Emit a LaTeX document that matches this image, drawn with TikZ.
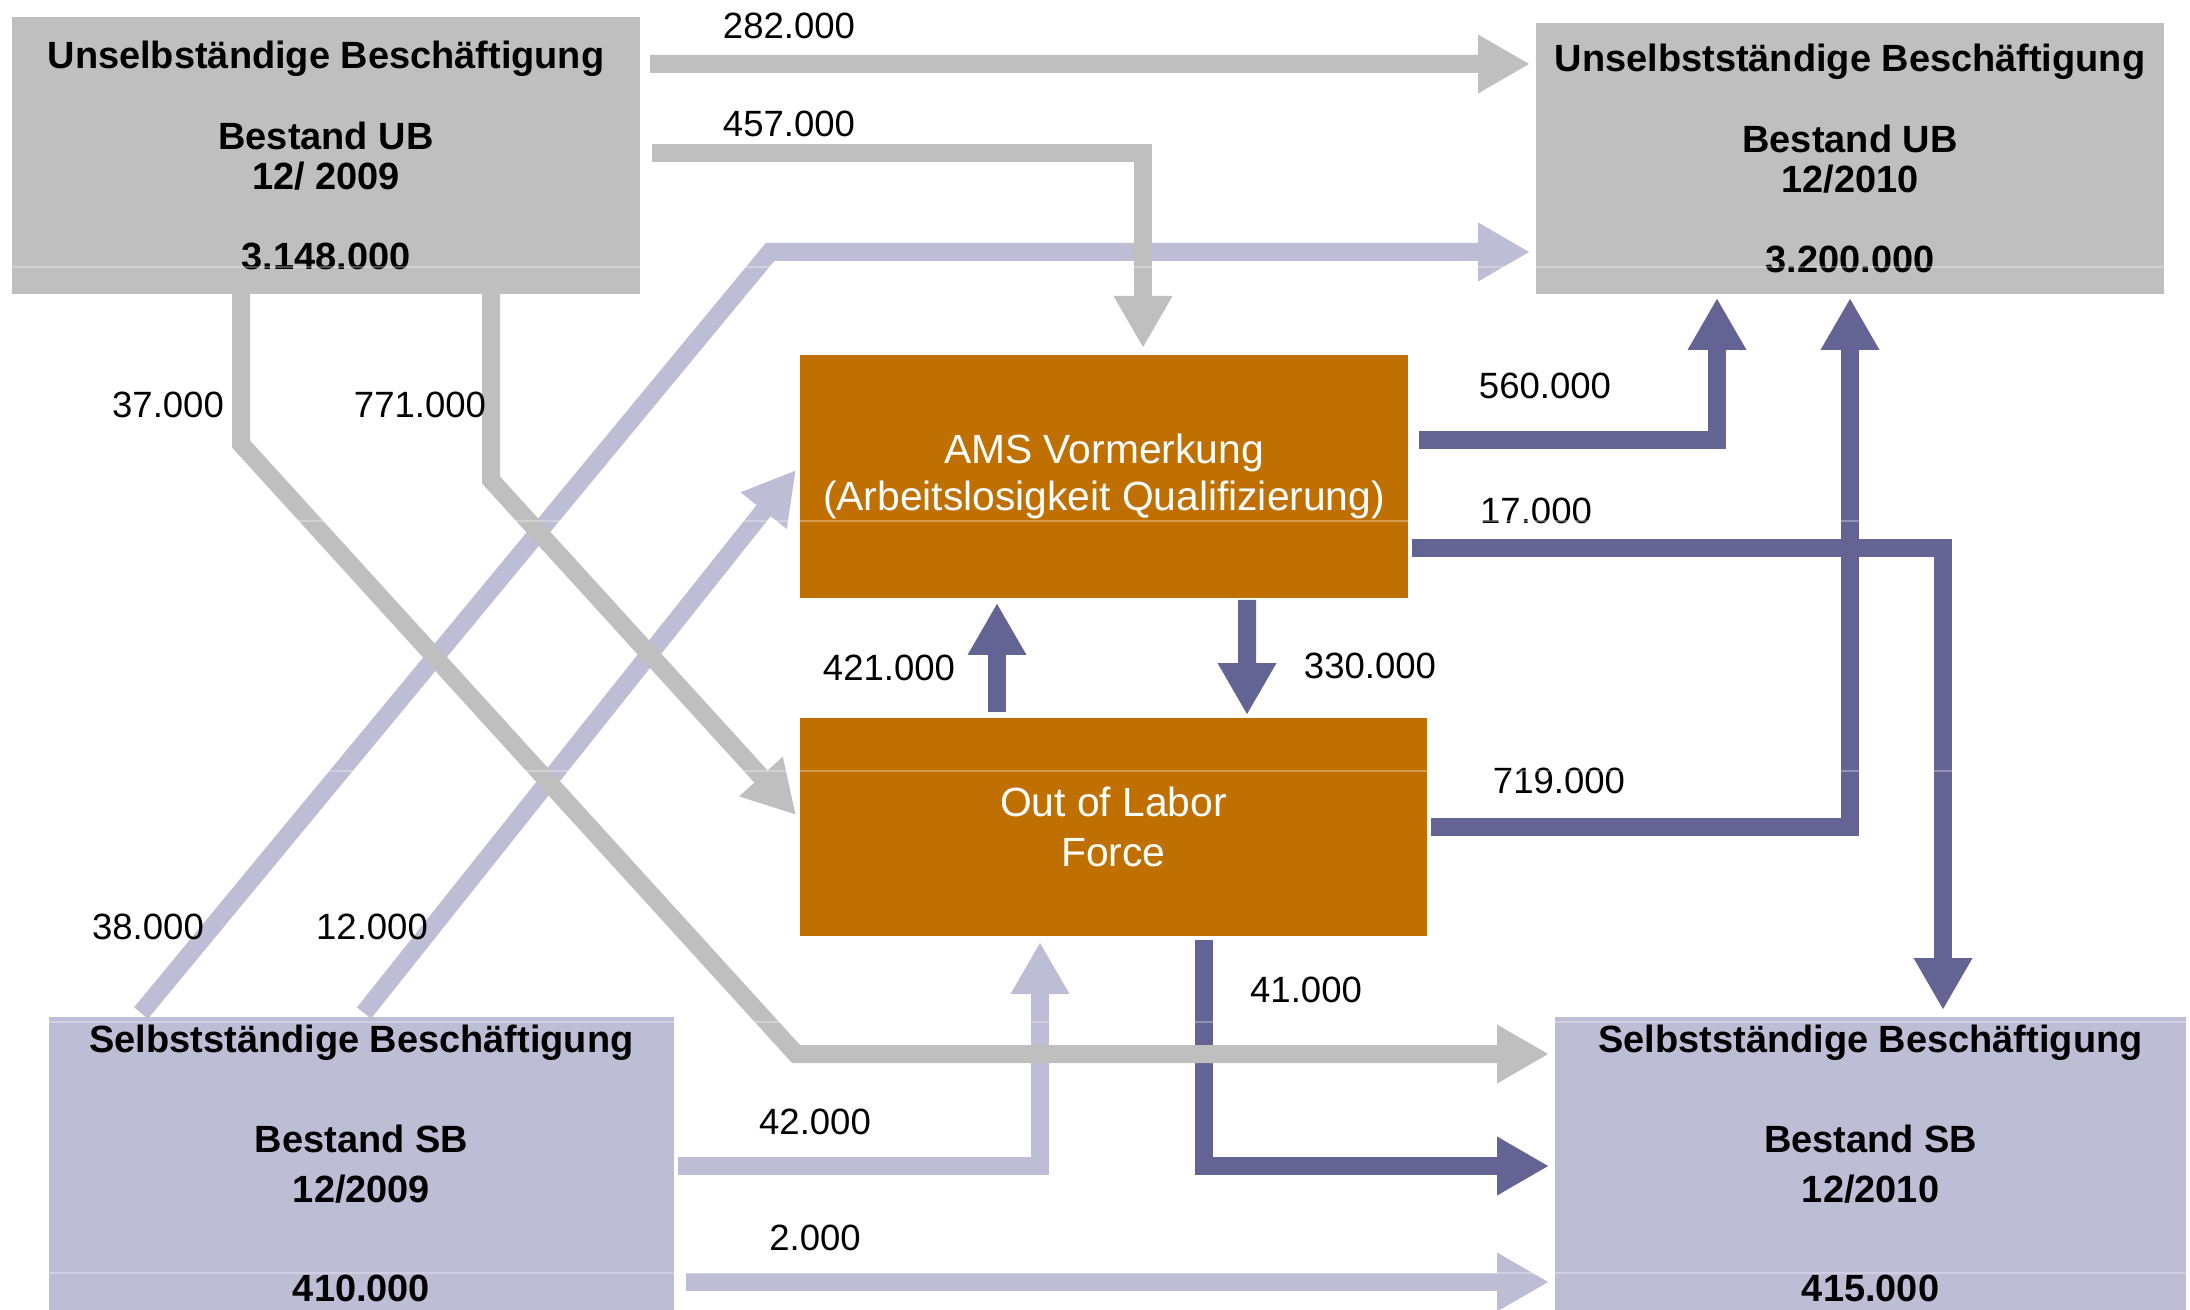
\documentclass[tikz,border=0pt]{standalone}
\usepackage{fontspec}
\setmainfont{Liberation Sans}
\usetikzlibrary{arrows.meta}
\definecolor{ubgrey}{HTML}{BFBFBF}
\definecolor{sblav}{HTML}{BDBDD6}
\definecolor{amsslate}{HTML}{636394}
\definecolor{amsorange}{HTML}{BF7000}

\begin{document}
\begin{tikzpicture}[x=0.1mm, y=-0.1mm,
    ub/.style={fill=ubgrey, outer sep=0pt, inner sep=0pt, align=center,
      font=\bfseries\fontsize{10.8}{11.4}\selectfont},
    sb/.style={fill=sblav, outer sep=0pt, inner sep=0pt, align=center,
      font=\bfseries\fontsize{10.8}{14.2}\selectfont},
    ctr/.style={fill=amsorange, text=white, outer sep=0pt, inner sep=0pt, align=center,
      font=\fontsize{11.6}{13.6}\selectfont},
    num/.style={inner sep=0pt, font=\fontsize{10.4}{12}\selectfont},
    flow/.style={line width=1.8mm, -{Triangle[width=5.5mm, length=5.2mm]}}]
  \useasboundingbox (0,0) rectangle (2190,1310);

  % Bestaende
  \node[ub, minimum width=6.28cm, minimum height=2.77cm] (ub09) at (326,155.5)
    {Unselbständige Beschäftigung\\[4mm]Bestand UB\\12/ 2009\\[4mm]3.148.000};
  \node[ub, minimum width=6.28cm, minimum height=2.71cm] (ub10) at (1850,158.5)
    {Unselbstständige Beschäftigung\\[4mm]Bestand UB\\12/2010\\[4mm]3.200.000};
  \node[sb, minimum width=6.25cm, minimum height=2.93cm] (sb09) at (361.5,1163.5)
    {Selbstständige Beschäftigung\\[5mm]Bestand SB\\12/2009\\[5mm]410.000};
  \node[sb, minimum width=6.31cm, minimum height=2.93cm] (sb10) at (1870.5,1163.5)
    {Selbstständige Beschäftigung\\[5mm]Bestand SB\\12/2010\\[5mm]415.000};
  \node[ctr, minimum width=6.08cm, minimum height=2.43cm] (ams) at (1104,476.5)
    {AMS Vormerkung\\(Arbeitslosigkeit Qualifizierung)};
  \node[ctr, minimum width=6.27cm, minimum height=2.18cm, font=\fontsize{11.6}{14.2}\selectfont] (olf) at (1113.5,827)
    {Out of Labor\\Force};

  % Stroeme aus SB
  \draw[flow, sblav] ([shift={(92,-4)}]sb09.north west) -- ++(629,-761)
    -- ([shift={(-6,229)}]ub10.north west);
  \draw[flow, sblav] ([shift={(315,-4)}]sb09.north west) -- ([shift={(-4,-6.5)}]ams.west);
  \draw[flow, sblav] ([shift={(4,149)}]sb09.north east) -| ([shift={(-73.5,6)}]olf.south);
  \draw[flow, sblav] ([shift={(12,265)}]sb09.north east) -- ([shift={(-6,265)}]sb10.north west);

  % Stroeme aus AMS / OLF
  \draw[flow, amsslate] ([shift={(11,-36.5)}]ams.east) -| ([shift={(-133,4)}]ub10.south);
  \draw[flow, amsslate] ([shift={(4,71.5)}]ams.east) -| ([shift={(388,-7)}]sb10.north west);
  \draw[flow, amsslate] ([shift={(4,0)}]olf.east) -| ([shift={(0,4)}]ub10.south);
  \draw[flow, amsslate] ([shift={(-116.5,-6)}]olf.north) -- ([shift={(-107,5)}]ams.south);
  \draw[flow, amsslate] ([shift={(143,2)}]ams.south) -- ([shift={(133.5,-3)}]olf.north);
  \draw[flow, amsslate] ([shift={(90.5,4)}]olf.south) |- ([shift={(-6,149)}]sb10.north west);

  % Stroeme aus UB
  \draw[flow, ubgrey] ([shift={(10,47)}]ub09.north east) -- ([shift={(-6,41)}]ub10.north west);
  \draw[flow, ubgrey] ([shift={(12,136)}]ub09.north east) -| ([shift={(39,-7)}]ams.north);
  \draw[flow, ubgrey] ([shift={(-85,0)}]ub09.south) -- ++(0,150) -- ++(555,610)
    -- ([shift={(-6,37)}]sb10.north west);
  \draw[flow, ubgrey] ([shift={(165,0)}]ub09.south) -- ++(0,186) -- ([shift={(-4,-12)}]olf.west);

  % Zahlen
  \node[num] (n282) at (789,26) {282.000};
  \node[num] (n457) at (789,124) {457.000};
  \node[num] (n37) at (168,405) {37.000};
  \node[num] (n771) at (420,405) {771.000};
  \node[num] (n38) at (148,927) {38.000};
  \node[num] (n12) at (372,927) {12.000};
  \node[num] (n560) at (1545,386) {560.000};
  \node[num] (n17) at (1536,511) {17.000};
  \node[num] (n719) at (1559,781) {719.000};
  \node[num] (n421) at (889,668) {421.000};
  \node[num] (n330) at (1370,666) {330.000};
  \node[num] (n41) at (1306,990) {41.000};
  \node[num] (n42) at (815,1122) {42.000};
  \node[num] (n2) at (815,1238) {2.000};

  % feine Zeilenlinien
  \foreach \yl in {267,521,771,1022,1273}
    \draw[white, opacity=0.3, line width=0.25mm] (0,\yl) -- (2190,\yl);
\end{tikzpicture}
\end{document}
